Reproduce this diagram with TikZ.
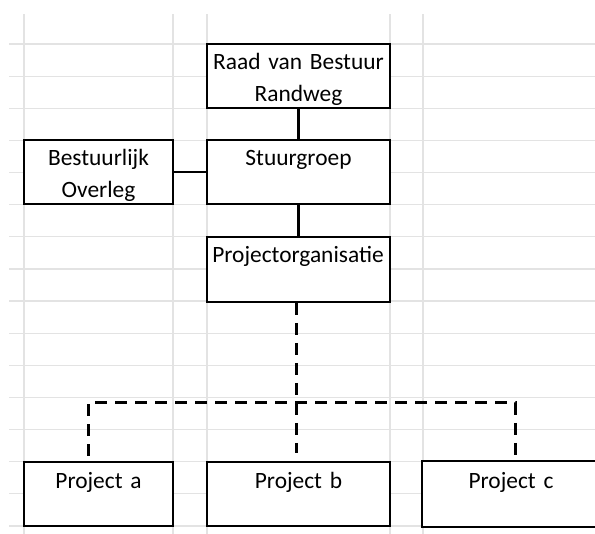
\documentclass[tikz,border=0pt]{standalone}
\usepackage{fontspec}
\setmainfont{Carlito}
\usetikzlibrary{calc}
\newcommand{\celtekst}{\fontsize{11.7pt}{16pt}\selectfont}

\begin{document}
\begin{tikzpicture}[x=0.5pt,y=-0.5pt,
  gridline/.style={draw=black!11,line width=0.6pt},
  box/.style={draw,fill=white,line width=1pt,minimum height=32pt,inner sep=0pt,
    text height=13pt,text depth=19pt,align=center,font=\celtekst},
  conn/.style={line width=1.4pt},
  dashline/.style={line width=1.5pt,dash pattern=on 6pt off 4pt}]
\useasboundingbox (0,0) rectangle (595,534);
\clip (0,0) rectangle (595,534);
%draw spreadsheet grid
\foreach \x in {24,173,207,390,423}
\draw[gridline] (\x,14) -- (\x,534);
\foreach \k in {0,...,15}
\draw[gridline] (9,44+32.13*\k) -- (595,44+32.13*\k);
%draw boxes
\node[box,minimum width=91.5pt,text width=90pt] (raad) at (298.5,76) {Raad van Bestuur\\Randweg};
\node[box,minimum width=91.5pt,text width=90pt] (stuur) at (298.5,172) {Stuurgroep};
\node[box,minimum width=74.5pt,text width=73pt] (overleg) at (98.5,172) {Bestuurlijk\\Overleg};
\node[box,minimum width=91.5pt,minimum height=32.5pt,text depth=19.5pt,text width=90pt] (porg) at (298,269.5) {Projectorganisatie};
\node[box,minimum width=74.5pt,text width=73pt] (pa) at (98.5,494) {Project a};
\node[box,minimum width=91.5pt,text width=90pt] (pb) at (298.5,494) {Project b};
%last box runs off the sheet on the right
\node[box,draw=none,minimum width=88pt,text width=86pt] (pc) at (511,494) {Project c};
\draw[line width=1pt] ($(pc.north east)+(20,0)$) -- (pc.north west) -- (pc.south west) -- ($(pc.south east)+(20,0)$);
% solid lines
\draw[conn] (raad.south) -- (stuur.north);
\draw[conn] (stuur.south) -- (stuur.south |- porg.north);
\draw[line width=1pt] (overleg.east) -- (stuur.west);
% dashed lines to the projects
\coordinate (split) at (296,403);
\coordinate (busa) at (88,403);
\coordinate (busc) at (515,403);
\draw[dashline,shorten >=4pt] (porg.south -| split) -- (pb.north -| split);
\draw[dashline,shorten <=2.5pt,shorten >=2.5pt] (pa.north -| busa) -- (busa) -- (busc) -- (pc.north -| busc);

\end{tikzpicture}
\end{document}
